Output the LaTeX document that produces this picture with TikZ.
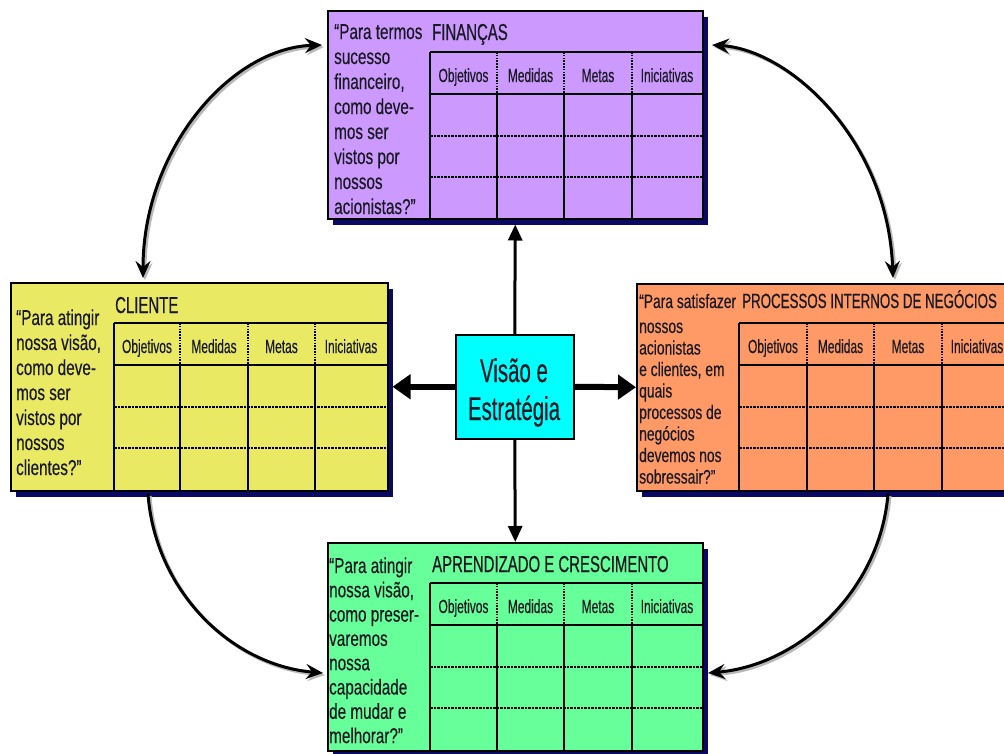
\documentclass[tikz,border=0pt]{standalone}
\usepackage{fontspec}
\setmainfont[FakeStretch=0.7]{Liberation Sans}
\newfontfamily\qfont[FakeStretch=0.71,FakeBold=0.3]{Liberation Sans}
\newfontfamily\tfont[FakeStretch=0.65,FakeBold=0.6]{Liberation Sans}
\newfontfamily\hfont[FakeStretch=0.63,FakeBold=0.3]{Liberation Sans}
\newfontfamily\vfont[FakeStretch=0.62,FakeBold=0.3]{Liberation Sans}
\usetikzlibrary{arrows.meta,shadows}
\definecolor{fincol}{RGB}{204,153,255}
\definecolor{clicol}{RGB}{233,233,100}
\definecolor{procol}{RGB}{255,153,102}
\definecolor{aprcol}{RGB}{102,255,153}
\definecolor{viscol}{RGB}{0,255,255}
\definecolor{navycol}{RGB}{10,10,100}
\definecolor{txtcol}{RGB}{25,25,35}
\tikzset{
  bscbox/.style={draw=black, line width=1.5pt, rectangle, inner sep=0pt, anchor=north west,
    drop shadow={shadow xshift=5pt, shadow yshift=-6pt, fill=navycol, opacity=1}},
  gridline/.style={draw=black, line width=2pt},
  rowdot/.style={draw=black, line width=2.6pt, dash pattern=on 2.6pt off 0.9pt},
  headdot/.style={draw=black, line width=1.8pt, dash pattern=on 1.6pt off 1.2pt},
  headlbl/.style={inner sep=0pt, anchor=base, text=txtcol, font=\hfont\fontsize{19}{22}\selectfont},
  qtext/.style={inner sep=0pt, anchor=base west, text=txtcol, font=\qfont\fontsize{21.5}{24}\selectfont},
  qsmall/.style={inner sep=0pt, anchor=base west, text=txtcol, font=\qfont\fontsize{19.5}{22}\selectfont},
  titletext/.style={inner sep=0pt, anchor=base west, text=txtcol, font=\tfont\fontsize{23}{26}\selectfont},
  curvearrow/.style={line width=3pt, {Stealth[length=17pt,width=15pt,inset=6pt]}-{Stealth[length=17pt,width=15pt,inset=6pt]},
    preaction={draw=gray!55, line width=3pt, transform canvas={shift={(2pt,-2pt)}}}},
  onearrow/.style={line width=3pt, -{Stealth[length=17pt,width=15pt,inset=6pt]},
    preaction={draw=gray!55, line width=3pt, transform canvas={shift={(2pt,-2pt)}}}},
  vertarrow/.style={line width=3pt, -{Triangle[length=16pt,width=14pt]}},
  horarrow/.style={line width=6pt, -{Triangle[length=18pt,width=24pt]}},
}
\newcommand\bscgrid[7]{%
  \draw[gridline] (#2,#7) -- (#6,#7);
  \draw[gridline] (#2,{#7+41.5}) -- (#6,{#7+41.5});
  \draw[gridline] (#2,#7) -- (#2,{#7+167});
  \draw[rowdot] (#2,{#7+84}) -- (#6,{#7+84});
  \draw[rowdot] (#2,{#7+125}) -- (#6,{#7+125});
  \foreach \c in {#3,#4,#5} {
    \draw[headdot] (\c,#7) -- (\c,{#7+41.5});
    \draw[gridline] (\c,{#7+41.5}) -- (\c,{#7+167});
  }
  \node[headlbl] (#1-h1) at ({(#2+#3)/2},{#7+30}) {Objetivos};
  \node[headlbl] (#1-h2) at ({(#3+#4)/2},{#7+30}) {Medidas};
  \node[headlbl] (#1-h3) at ({(#4+#5)/2},{#7+30}) {Metas};
  \node[headlbl] (#1-h4) at ({(#5+#6)/2},{#7+30}) {Iniciativas};
}
\begin{document}
\begin{tikzpicture}[x=1pt,y=-1pt]
\useasboundingbox (0,0) rectangle (1004,753);
\clip (0,0) rectangle (1004,753);

% boxes
\node[bscbox, fill=fincol, minimum width=375pt, minimum height=208pt] (fin) at (327,10) {};
\node[bscbox, fill=clicol, minimum width=377pt, minimum height=208pt] (cli) at (10,282) {};
\node[bscbox, fill=procol, minimum width=376pt, minimum height=207pt] (pro) at (636,283) {};
\node[bscbox, fill=aprcol, minimum width=375pt, minimum height=208pt] (apr) at (327,542) {};
\node[draw=black, line width=1.5pt, fill=viscol, minimum width=118pt, minimum height=104pt, inner sep=0pt, anchor=north west] (vis) at (455,334) {};

% grids
\bscgrid{fing}{430}{497}{564}{632}{702}{52}
\bscgrid{clig}{114}{180}{248}{315}{387}{323}
\bscgrid{prog}{739}{807}{874}{942}{1012}{323}
\bscgrid{aprg}{430}{497}{564}{632}{702}{583}

% titles
\node[titletext] (fint) at (432,40) {FINANÇAS};
\node[titletext] (clit) at (115,313) {CLIENTE};
\node[titletext, font=\tfont\fontsize{20.5}{24}\selectfont] (prot) at (742,308) {PROCESSOS INTERNOS DE NEGÓCIOS};
\node[titletext] (aprt) at (432,572) {APRENDIZADO E CRESCIMENTO};

% questions
\foreach \t [count=\i from 0] in {{“Para termos},{sucesso},{financeiro,},{como deve-},{mos ser},{vistos por},{nossos},{acionistas?”}}
  \node[qtext] (finq\i) at (334,{39+25*\i}) {\t};
\foreach \t [count=\i from 0] in {{“Para atingir},{nossa visão,},{como deve-},{mos ser},{vistos por},{nossos},{clientes?”}}
  \node[qtext] (cliq\i) at (16,{325+25*\i}) {\t};
\node[qsmall] (proq0) at (639,308) {“Para satisfazer};
\foreach \t [count=\i from 1] in {{nossos},{acionistas},{e clientes, em},{quais},{processos de},{negócios},{devemos nos},{sobressair?”}}
  \node[qsmall] (proq\i) at (639,{311.5+21.5*\i}) {\t};
\foreach \t [count=\i from 0] in {{“Para atingir},{nossa visão,},{como preser-},{varemos},{nossa},{capacidade},{de mudar e},{melhorar?”}}
  \node[qtext] (aprq\i) at (329,{573+24.3*\i}) {\t};

% center text
\node[inner sep=0pt, anchor=base, text=txtcol, font=\vfont\fontsize{33}{36}\selectfont] (vis1) at (514,382) {Visão e};
\node[inner sep=0pt, anchor=base, text=txtcol, font=\vfont\fontsize{33}{36}\selectfont] (vis2) at (514,420) {Estratégia};

% center arrows
\draw[vertarrow] (vis.north) -- ([yshift=-5pt]fin.south);
\draw[vertarrow] (vis.south) -- (apr.north);
\draw[horarrow] (vis.west) -- ([xshift=4pt]cli.east);
\draw[horarrow] (vis.east) -- (pro.west);

% curved arrows
\coordinate (finWL) at (322,45);
\coordinate (cliN) at (143,278);
\coordinate (finWR) at (712,45);
\coordinate (proN) at (893,278);
\coordinate (cliS) at (148,494);
\coordinate (aprW) at (323,673);
\coordinate (proS) at (888,494);
\coordinate (aprE) at (708,673);
\draw[curvearrow] (finWL) .. controls (230,48) and (143,150) .. (cliN);
\draw[curvearrow] (finWR) .. controls (790,50) and (888,140) .. (proN);
\draw[onearrow] (cliS) .. controls (155,590) and (230,665) .. (aprW);
\draw[onearrow] (proS) .. controls (880,590) and (800,665) .. (aprE);
\end{tikzpicture}
\end{document}
